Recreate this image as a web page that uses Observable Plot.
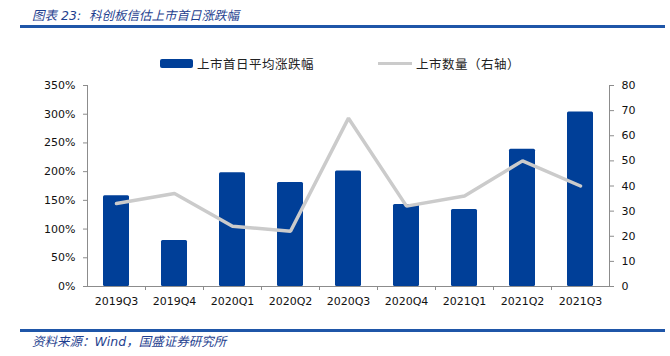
<!DOCTYPE html>
<html>
<head>
<meta charset="utf-8">
<script src="https://cdn.jsdelivr.net/npm/d3@7"></script>
<script src="https://cdn.jsdelivr.net/npm/@observablehq/plot@0.6"></script>
<style>
  body { margin: 0; background: #fff; }
  #wrap { position: relative; width: 670px; height: 356px; overflow: hidden; font-family: "DejaVu Sans", Verdana, sans-serif; }
  #chart { position: absolute; left: 0; top: 0; }
  .title { position: absolute; left: 32px; top: 5px; font-size: 12.5px; font-style: italic; color: #1f3f8f; font-family: "DejaVu Sans", "Noto Sans CJK SC", sans-serif; white-space: nowrap; }
  .topline { position: absolute; left: 20px; top: 25px; width: 645px; height: 3px; background: #1f56a8; }
  .botline { position: absolute; left: 20px; top: 329px; width: 645px; height: 3px; background: #1f56a8; }
  .caption { position: absolute; left: 32px; top: 331px; font-size: 12.5px; font-style: italic; color: #1f3f8f; font-family: "DejaVu Sans", "Noto Sans CJK SC", sans-serif; white-space: nowrap; }
  .legend { position: absolute; top: 54px; font-size: 12.5px; letter-spacing: 0.5px; color: #222; font-family: "Noto Sans CJK SC", sans-serif; white-space: nowrap; display: flex; align-items: center; }
  .sw-bar { display: inline-block; width: 33px; height: 9px; background: #003f98; border-radius: 2px; margin-right: 4px; }
  .sw-line { display: inline-block; width: 34px; height: 3px; background: #cbcbcb; margin-right: 4px; }
</style>
</head>
<body>
<div id="wrap">
  <div id="chart"></div>
  <div class="title">图表 23:&nbsp; 科创板信估上市首日涨跌幅</div>
  <div class="topline"></div>
  <div class="legend" style="left:160px"><span class="sw-bar"></span>上市首日平均涨跌幅</div>
  <div class="legend" style="left:378px"><span class="sw-line"></span>上市数量（右轴）</div>
  <div class="botline"></div>
  <div class="caption">资料来源：Wind，国盛证券研究所</div>
</div>
<script>
const quarters = ["2019Q3","2019Q4","2020Q1","2020Q2","2020Q3","2020Q4","2021Q1","2021Q2","2021Q3"];
const avgChange = [1.58, 0.80, 1.98, 1.81, 2.01, 1.43, 1.34, 2.39, 3.04];
const listings = [33, 37, 24, 22, 67, 32, 36, 50, 40];
const leftTicks = [0, 0.5, 1, 1.5, 2, 2.5, 3, 3.5];
const rightTicks = [0, 10, 20, 30, 40, 50, 60, 70, 80];

const k = 3.5 / 80; // right axis (0–80) mapped onto left axis (0–350%)
const data = quarters.map((q, i) => ({q, v: avgChange[i], n: listings[i]}));
const axisColor = "#8c8c8c";

const chart = Plot.plot({
  width: 670,
  height: 356,
  marginLeft: 87,
  marginRight: 61,
  marginTop: 85,
  marginBottom: 70,
  style: { fontFamily: "DejaVu Sans, Verdana, sans-serif", fontSize: "11px", color: "#111", background: "transparent" },
  x: { domain: quarters, paddingInner: 0.55, paddingOuter: 0.275, label: null },
  y: { domain: [0, 3.5], label: null },
  marks: [
    Plot.barY(data, { x: "q", y: "v", fill: "#003f98", rx: 1.5 }),
    Plot.line(data, { x: "q", y: d => d.n * k, stroke: "#cbcbcb", strokeWidth: 3.5, strokeLinejoin: "miter" }),
    Plot.ruleY([0], { stroke: axisColor }),
    Plot.frame({ anchor: "left", stroke: axisColor }),
    Plot.frame({ anchor: "right", stroke: axisColor }),
    Plot.ruleX(quarters.slice(1), { x: d => d, dx: -29, y1: 0, y2: -0.07, stroke: axisColor }),
    Plot.axisX({ tickSize: 0, tickPadding: 11, label: null }),
    Plot.axisY(leftTicks, { anchor: "left", tickSize: 4, tickPadding: 8, stroke: axisColor, tickFormat: d => Math.round(d * 100) + "%", label: null }),
    Plot.axisY(rightTicks.map(v => v * k), { anchor: "right", tickSize: 4, tickPadding: 8, stroke: axisColor, tickFormat: d => String(Math.round(d / k)), label: null })
  ]
});
document.getElementById("chart").appendChild(chart);
</script>
</body>
</html>
